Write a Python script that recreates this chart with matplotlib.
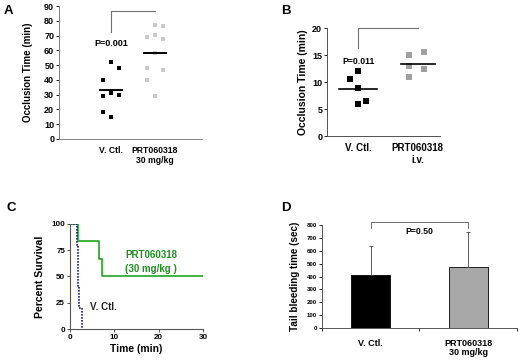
import matplotlib
matplotlib.use("Agg")
import matplotlib.pyplot as plt
import numpy as np

plt.rcParams['font.family'] = ['Liberation Sans', 'DejaVu Sans']
plt.rcParams['font.weight'] = 'bold'

# panel A: occlusion time, scatter
a_ctl = [52, 48, 40, 29, 31, 29.5, 18.5, 15]
a_ctl_dx = [0, 1, -1, -1, 0, 1, -1, 0]
a_prt = [77, 70.5, 58, 29, 76.5, 68, 46.5, 69, 48, 40]
a_prt_dx = [0, 0, 0, 0, 1, 1, 1, -1, -1, -1]
a_groups = ["V. Ctl.", "PRT060318\n30 mg/kg"]

# panel B: occlusion time i.v.
b_ctl = [10.5, 12, 8.9, 6, 6.5]
b_ctl_dx = [-1, 0, 0, 0, 1]
b_prt = [15, 13, 11, 15.5, 12.5]
b_prt_dx = [-1, -1, -1, 0.7, 0.7]
b_groups = ["V. Ctl.", "PRT060318\ni.v."]

# panel C: survival curves (step points)
c_prt_t = [0, 1.7, 6.6, 7.3, 30]
c_prt_s = [100, 83.3, 66.7, 50, 50]
c_ctl_t = [0, 1.6, 1.75, 1.9, 2.0, 2.6]
c_ctl_s = [100, 80, 60, 40, 20, 0]

# panel D: tail bleeding time
d_groups = ["V. Ctl.", "PRT060318\n30 mg/kg"]
d_vals = [412, 475]
d_err = [225, 268]

fig = plt.figure(figsize=(5.2, 3.61), dpi=100)

# ---- A
ax = fig.add_axes([0.1135, 0.615, 0.275, 0.368])
ax.plot(np.array(a_ctl_dx) * 0.19, a_ctl, 's', color='black', ms=3.2, mew=0)
ax.plot(1 + np.array(a_prt_dx) * 0.19, a_prt, 's', color='#c9c9c9', ms=3.2, mew=0)
ax.plot([-0.25, 0.25], [np.mean(a_ctl)] * 2, color='black', lw=1.4)
ax.plot([0.75, 1.25], [np.mean(a_prt)] * 2, color='black', lw=1.4)
ax.plot([0, 0, 1], [72.5, 86.5, 86.5], color='#707070', lw=0.8)
ax.text(0, 65, "P=0.001", ha='center', va='center', fontsize=6.5, fontweight='bold')
ax.set_xlim(-1.18, 2.07)
ax.set_ylim(0, 90)
ax.set_yticks(range(0, 91, 10))
ax.set_xticks([0, 1])
ax.set_xticklabels(a_groups, fontsize=6.2, fontweight='bold')
ax.tick_params(axis='x', length=0, pad=5)
ax.tick_params(axis='y', labelsize=6.5, length=2, width=0.6, pad=1.5)
ax.set_ylabel("Occlusion Time (min)", fontsize=7, fontweight='bold', labelpad=8)
for s in ['top', 'right']:
    ax.spines[s].set_visible(False)
for s in ['left', 'bottom']:
    ax.spines[s].set_color('#808080')
    ax.spines[s].set_linewidth(0.7)
for lab in ax.get_yticklabels():
    lab.set_fontweight('bold')

# ---- B
ax = fig.add_axes([0.629, 0.623, 0.217, 0.299])
ax.plot(np.array(b_ctl_dx) * 0.14, b_ctl, 's', color='black', ms=4.3, mew=0)
ax.plot(1 + np.array(b_prt_dx) * 0.14, b_prt, 's', color='#a0a0a0', ms=4.3, mew=0)
ax.plot([-0.32, 0.32], [np.mean(b_ctl)] * 2, color='black', lw=1.2)
ax.plot([0.72, 1.28], [np.mean(b_prt)] * 2, color='black', lw=1.2)
ax.plot([0, 0, 1], [16.3, 20, 20], color='#707070', lw=0.8, clip_on=False)
ax.text(0, 13.9, "P=0.011", ha='center', va='center', fontsize=6.2, fontweight='bold')
ax.set_xlim(-0.52, 1.37)
ax.set_ylim(0, 20)
ax.set_yticks([0, 5, 10, 15, 20])
ax.set_xticks([0, 1])
ax.set_xticklabels(b_groups, fontsize=7, fontweight='bold')
ax.tick_params(axis='x', length=0, pad=5)
ax.tick_params(axis='y', labelsize=6.5, length=2, width=0.6, pad=1.5)
ax.set_ylabel("Occlusion Time (min)", fontsize=7.5, fontweight='bold', labelpad=3)
for s in ['top', 'right']:
    ax.spines[s].set_visible(False)
for s in ['left', 'bottom']:
    ax.spines[s].set_color('#505050')
    ax.spines[s].set_linewidth(0.7)
for lab in ax.get_yticklabels():
    lab.set_fontweight('bold')

# ---- C
ax = fig.add_axes([0.1346, 0.0886, 0.256, 0.2917])
ax.step(c_prt_t, c_prt_s, where='post', color='#1fa51f', lw=1.2)
ax.step(c_ctl_t, c_ctl_s, where='post', color='#1a1a8c', lw=1.2, ls=(0, (1, 0.8)))
ax.text(12.4, 70, "PRT060318", color='#1f8f1f', fontsize=7, fontweight='bold', va='center')
ax.text(12.4, 57, "(30 mg/kg )", color='#1f8f1f', fontsize=7, fontweight='bold', va='center')
ax.text(4.5, 21, "V. Ctl.", color='#222222', fontsize=7, fontweight='bold', va='center')
ax.set_xlim(0, 30)
ax.set_ylim(0, 100)
ax.set_xticks([0, 10, 20, 30])
ax.set_yticks([0, 25, 50, 75, 100])
ax.tick_params(labelsize=5.8, length=2, width=0.6, pad=1.5, colors='#333333')
ax.set_xlabel("Time (min)", fontsize=7.4, fontweight='bold', labelpad=2)
ax.set_ylabel("Percent Survival", fontsize=7.6, fontweight='bold', labelpad=4.5)
for s in ['top', 'right']:
    ax.spines[s].set_visible(False)
for s in ['left', 'bottom']:
    ax.spines[s].set_color('#555555')
    ax.spines[s].set_linewidth(0.8)
for lab in ax.get_xticklabels() + ax.get_yticklabels():
    lab.set_fontweight('bold')
    lab.set_color('black')

# ---- D
ax = fig.add_axes([0.619, 0.0914, 0.375, 0.285])
xd = np.arange(len(d_vals))
ax.bar(xd, d_vals, width=0.4, color=['black', '#a8a8a8'], edgecolor='black', lw=0.6)
ax.errorbar(xd, d_vals, yerr=[[0, 0], d_err], fmt='none', ecolor='#444444', elinewidth=0.6, capsize=1.5, capthick=0.6)
ax.plot([0, 0, 1, 1], [780, 826, 826, 780], color='#555555', lw=0.6, clip_on=False)
ax.text(0.5, 752, "P=0.50", ha='center', va='center', fontsize=6.2, fontweight='bold')
ax.set_xlim(-0.5, 1.5)
ax.set_ylim(0, 800)
ax.set_yticks(range(0, 801, 100))
ax.set_xticks([-0.5, 0.5, 1.5], minor=True)
ax.set_xticks(xd)
ax.set_xticklabels(d_groups, fontsize=6.5, fontweight='bold', linespacing=1.0)
ax.tick_params(axis='x', which='major', length=0, pad=8)
ax.tick_params(axis='x', which='minor', length=2.5, width=0.6)
ax.tick_params(axis='y', labelsize=4.4, length=2, width=0.6, pad=1.5)
ax.set_ylabel("Tail bleeding time (sec)", fontsize=7.1, fontweight='bold', labelpad=5)
for s in ['top', 'right']:
    ax.spines[s].set_visible(False)
for s in ['left', 'bottom']:
    ax.spines[s].set_color('#555555')
    ax.spines[s].set_linewidth(0.7)
for lab in ax.get_yticklabels():
    lab.set_fontweight('bold')

# panel letters
for letter, x, y in [("A", 0.008, 0.985), ("B", 0.54, 0.985), ("C", 0.012, 0.44), ("D", 0.54, 0.44)]:
    fig.text(x, y, letter, fontsize=9.5, fontweight='bold', va='top', ha='left')

fig.savefig("out.png", dpi=100)
